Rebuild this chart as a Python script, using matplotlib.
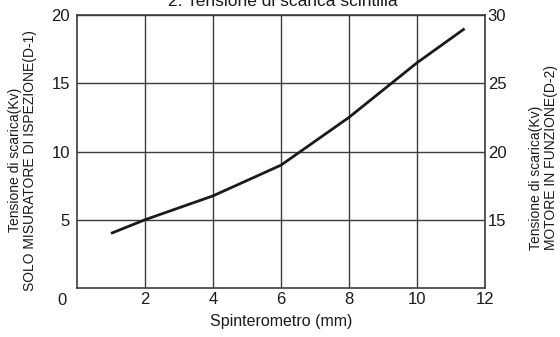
import matplotlib.pyplot as plt
import numpy as np

plt.rcParams['font.family'] = ['Liberation Sans', 'DejaVu Sans']

# gap of the spark plug tester (mm) vs discharge voltage (kV)
gap_mm = [1.0, 2.0, 4.0, 6.0, 8.0, 10.0, 11.4]
volt_kv = [4.0, 5.0, 6.75, 9.0, 12.5, 16.5, 19.0]

x_ticks = [2, 4, 6, 8, 10, 12]
left_ticks = [5, 10, 15, 20]
right_ticks = [15, 20, 25, 30]

title = "2. Tensione di scarica scintilla"
x_label = "Spinterometro (mm)"
left_label = "Tensione di scarica(Kv)\nSOLO MISURATORE DI ISPEZIONE(D-1)"
right_label = "Tensione di scarica(Kv)\nMOTORE IN FUNZIONE(D-2)"

grid_col = '#3c3c3c'
txt_col = '#1a1a1a'

fig = plt.figure(figsize=(5.6, 3.37), dpi=100)
ax = fig.add_axes([77/560, 1 - 288/337, 408/560, 273/337])

ax.plot(gap_mm, volt_kv, color=txt_col, lw=2.0, solid_capstyle='butt', zorder=3)

ax.set_xlim(0, 12)
ax.set_ylim(0, 20)
ax.set_xticks(x_ticks)
ax.set_yticks(left_ticks)
ax.grid(True, color=grid_col, lw=1.0)
for s in ax.spines.values():
    s.set_color(grid_col)
    s.set_linewidth(1.2)
ax.tick_params(length=0, labelsize=12, colors=txt_col)
ax.tick_params(axis='x', pad=3)
ax.tick_params(axis='y', pad=5)

# lone "0" under the bottom-left corner
ax.annotate("0", xy=(0, 0), xytext=(-11, -9), textcoords='offset points',
            ha='center', va='center', fontsize=12, color=txt_col)

ax2 = ax.twinx()
ax2.set_ylim(10, 30)
ax2.set_yticks(right_ticks)
ax2.tick_params(length=0, labelsize=12, pad=2, colors=txt_col)
for s in ax2.spines.values():
    s.set_visible(False)

ax.set_xlabel(x_label, fontsize=11.5, labelpad=5, color=txt_col)

fig.text(0.04, 0.525, left_label, rotation=90, ha='center', va='center',
         fontsize=10, linespacing=1.1, multialignment='center', color=txt_col)
fig.text(0.97, 1 - 250/337, right_label, rotation=90, ha='center', va='bottom',
         fontsize=10, linespacing=1.1, multialignment='left', color=txt_col)

fig.text(0.505, 1 - 6/337, title, ha='center', va='baseline', fontsize=12.5,
         color=txt_col)

fig.savefig('out.png', dpi=100)
